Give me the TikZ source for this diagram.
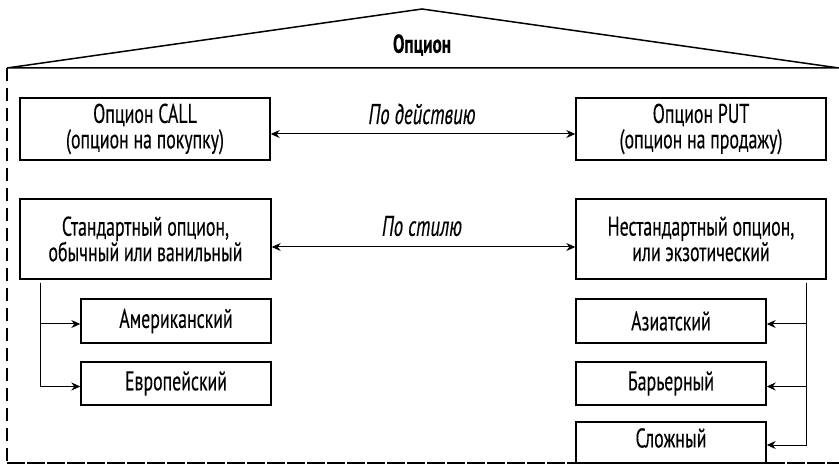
\documentclass[tikz,border=0pt]{standalone}
\usepackage{fontspec}
\setmainfont[FakeStretch=0.66,FakeBold=0.3]{PT Sans}
\usetikzlibrary{arrows.meta}
\begin{document}
\begin{tikzpicture}[x=1pt,y=-1pt,
  txt/.style={align=center,inner sep=0pt,font=\fontsize{27}{25.5}\selectfont},
  box/.style={txt,draw,line width=1.4pt},
  lbl/.style={font=\fontsize{28.5}{25.5}\selectfont\itshape},
  conn/.style={line width=1pt,-{Stealth[length=9pt,width=8pt,inset=3pt]}},
  dconn/.style={line width=1pt,{Stealth[length=9pt,width=8pt,inset=3pt]}-{Stealth[length=9pt,width=8pt,inset=3pt]}},
  roof/.style={line width=1.5pt,line join=miter},
  dash box/.style={line width=1.8pt,dash pattern=on 13pt off 7pt}]
\useasboundingbox (0,0) rectangle (839,465);
% roof
\coordinate (rl) at (7,68);
\coordinate (rt) at (422,9);
\coordinate (rr) at (839,68);
\draw[roof] (rl) -- (rt) -- (rr) -- cycle;
\node[font=\fontsize{26}{25.5}\selectfont\bfseries] (title) at (422,45) {Опцион};
% dashed frame
\coordinate (fb) at (7,463);
\coordinate (fr) at (839,463);
\draw[dash box] (rl) -- (fb) -- (fr);
% boxes
\node[box,minimum width=250pt,minimum height=62pt] (call) at (145,129) {Опцион CALL\\(опцион на покупку)};
\node[box,minimum width=250pt,minimum height=62pt] (put) at (701,129) {Опцион PUT\\(опцион на продажу)};
\node[box,minimum width=251pt,minimum height=80pt] (std) at (145.5,239) {Стандартный опцион,\\обычный или ванильный};
\node[box,minimum width=250pt,minimum height=80pt] (nstd) at (701,239) {Нестандартный опцион,\\или экзотический};
\node[box,minimum width=190pt,minimum height=44pt] (amer) at (176,321) {Американский};
\node[box,minimum width=190pt,minimum height=43pt] (euro) at (176,383.5) {Европейский};
\node[box,minimum width=190pt,minimum height=44pt] (asia) at (671,321) {Азиатский};
\node[box,minimum width=190pt,minimum height=43pt] (barr) at (671,383.5) {Барьерный};
\node[box,minimum width=190pt,minimum height=41pt] (compl) at (671,442.5) {};
\node[txt] (compltext) at (671,438) {Сложный};
\draw[dash box] (fb) -- (fr);
% labels and arrows
\node[lbl] (l1) at (422,114) {По действию};
\node[lbl] (l2) at (422,226) {По стилю};
\draw[dconn] ([yshift=-5pt]call.east) -- ([yshift=-5pt]put.west);
\draw[dconn] ([yshift=-8pt]std.east) -- ([yshift=-8pt]nstd.west);
\draw[conn] ([xshift=21pt,yshift=-3pt]std.south west) |- ([yshift=-3pt]amer.west);
\draw[conn] ([xshift=21pt,yshift=-3pt]std.south west) |- ([yshift=-3pt]euro.west);
\draw[conn] ([xshift=-20pt,yshift=-3pt]nstd.south east) |- ([yshift=-3pt]asia.east);
\draw[conn] ([xshift=-20pt,yshift=-3pt]nstd.south east) |- ([yshift=-3pt]barr.east);
\draw[conn] ([xshift=-20pt,yshift=-3pt]nstd.south east) |- ([yshift=-2.5pt]compl.east);
\end{tikzpicture}
\end{document}
